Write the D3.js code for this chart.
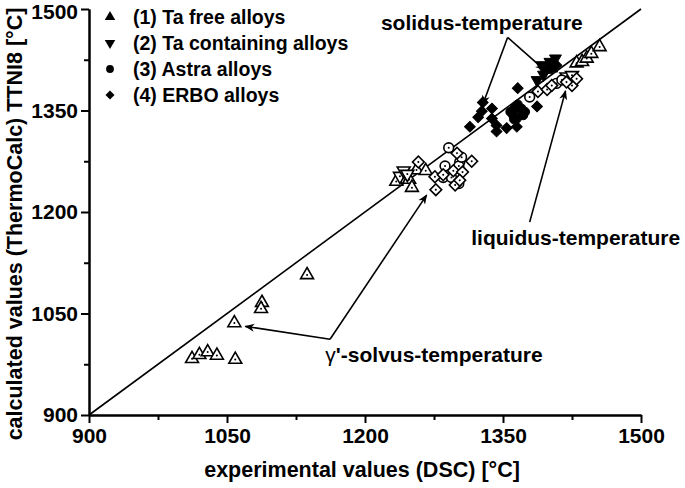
<!DOCTYPE html>
<html>
<head>
<meta charset="utf-8">
<script src="https://cdn.jsdelivr.net/npm/d3@7"></script>
<style>
  body { margin: 0; background: #fff; }
  svg { font-family: "Liberation Sans", Arial, sans-serif; font-weight: bold; }
  .axis path, .axis line { stroke: #000; stroke-width: 2; }
  .axis text { font-size: 21px; font-weight: bold; fill: #000; }
</style>
</head>
<body>
<div id="chart"></div>
<script>
// tick labels
var majorTicks = [900, 1050, 1200, 1350, 1500]
var minorTicks = [975, 1125, 1275, 1425]

// legend categories
var categories = ["(1) Ta free alloys", "(2) Ta containing alloys", "(3) Astra alloys", "(4) ERBO alloys"]

// [experimental (DSC), calculated (TTNI8)] per alloy group and temperature
var taFreeSolvus = [[1012, 983], [1020, 989], [1029, 993], [1039, 988], [1059, 982], [1058, 1036],
    [1088, 1066], [1087, 1057], [1137, 1107], [1234, 1245], [1248, 1248], [1251, 1236], [1256, 1262], [1266, 1261]]
var taContSolvus = [[1238, 1253], [1242, 1261], [1246, 1256]]
var astraSolvus = [[1291, 1295], [1287, 1268], [1303, 1274], [1302, 1268], [1285, 1251], [1294, 1251],
    [1302, 1242], [1305, 1281]]
var erboSolvus = [[1258, 1274], [1276, 1252], [1277, 1233], [1285, 1255], [1296, 1261], [1300, 1287],
    [1306, 1259], [1316, 1275], [1298, 1240], [1303, 1247]]

var taFreeSolidus = [[1398, 1410], [1403, 1412]]
var taContSolidus = [[1392, 1417], [1401, 1422], [1387, 1395], [1394, 1403], [1407, 1427]]
var astraSolidus = [[1358, 1348], [1363, 1355], [1369, 1351], [1372, 1343], [1365, 1338], [1361, 1343],
    [1370, 1353], [1366, 1359], [1362, 1337], [1374, 1348]]
var erboSolidus = [[1314, 1326], [1323, 1340], [1327, 1349], [1338, 1353], [1338, 1338], [1343, 1328],
    [1343, 1319], [1354, 1324], [1365, 1326], [1366, 1383], [1387, 1356], [1408, 1417], [1328, 1362]]

var taFreeLiquidus = [[1430, 1420], [1436, 1422], [1441, 1427], [1446, 1434], [1455, 1444]]
var taContLiquidus = [[1419, 1400], [1425, 1402]]
var astraLiquidus = [[1379, 1370], [1408, 1390], [1414, 1395]]
var erboLiquidus = [[1388, 1378], [1398, 1381], [1403, 1387], [1425, 1387], [1430, 1397], [1419, 1392]]

var groups = [
    { points: taFreeSolvus, symbol: 0, filled: false },
    { points: taContSolvus, symbol: 1, filled: false },
    { points: astraSolvus, symbol: 2, filled: false },
    { points: erboSolvus, symbol: 3, filled: false },
    { points: taFreeLiquidus, symbol: 0, filled: false },
    { points: taContLiquidus, symbol: 1, filled: false },
    { points: astraLiquidus, symbol: 2, filled: false },
    { points: erboLiquidus, symbol: 3, filled: false },
    { points: erboSolidus, symbol: 3, filled: true },
    { points: astraSolidus, symbol: 2, filled: true },
    { points: taFreeSolidus, symbol: 0, filled: true },
    { points: taContSolidus, symbol: 1, filled: true }
]

var width = 685, height = 488
var x = d3.scaleLinear().domain([900, 1500]).range([89, 641])
var y = d3.scaleLinear().domain([900, 1500]).range([415, 9])

var svg = d3.select("#chart").append("svg")
    .attr("width", width)
    .attr("height", height)

// symbol paths: up triangle, down triangle, circle, diamond (square turned 45deg)
var symbolTypes = [d3.symbolTriangle, d3.symbolTriangle, d3.symbolCircle, d3.symbolSquare]
var symbolRotate = [0, 180, 0, 45]
var symbolSize = [72, 72, 75, 68]

// axes
svg.append("g")
    .attr("class", "axis")
    .attr("transform", "translate(0," + y(900) + ")")
    .call(d3.axisBottom(x).tickValues(majorTicks).tickSize(8).tickSizeOuter(0).tickPadding(5).tickFormat(d3.format("d")))
svg.append("g")
    .attr("class", "axis")
    .attr("transform", "translate(0," + y(900) + ")")
    .call(d3.axisBottom(x).tickValues(minorTicks).tickSize(5).tickSizeOuter(0).tickFormat(""))

var yAxis = svg.append("g")
    .attr("class", "axis")
    .attr("transform", "translate(" + x(900) + ",0)")
    .call(d3.axisLeft(y).tickValues(majorTicks).tickSize(8).tickSizeOuter(0).tickPadding(3).tickFormat(d3.format("d")))
// keep the top label inside the picture
yAxis.selectAll(".tick text")
    .filter(function (d) { return d == 1500 })
    .attr("dy", "0.45em")
svg.append("g")
    .attr("class", "axis")
    .attr("transform", "translate(" + x(900) + ",0)")
    .call(d3.axisLeft(y).tickValues(minorTicks).tickSize(5).tickSizeOuter(0).tickFormat(""))

// axis titles
svg.append("text")
    .attr("x", 362)
    .attr("y", 477)
    .style("text-anchor", "middle")
    .style("font-size", "21.5px")
    .text("experimental values (DSC) [°C]")

svg.append("text")
    .attr("transform", "translate(22,224) rotate(-90)")
    .style("text-anchor", "middle")
    .style("font-size", "21.5px")
    .text("calculated values (ThermoCalc) TTNI8 [°C]")

// y = x line
svg.append("line")
    .attr("x1", x(900)).attr("y1", y(900))
    .attr("x2", x(1500)).attr("y2", y(1500))
    .attr("stroke", "#000")
    .attr("stroke-width", 1.6)

// points
groups.forEach(function (g) {
    var sym = d3.symbol().type(symbolTypes[g.symbol]).size(g.filled ? symbolSize[g.symbol] * 0.85 : symbolSize[g.symbol])
    var sel = svg.append("g").selectAll("g")
        .data(g.points)
        .enter().append("g")
        .attr("transform", function (d) {
            return "translate(" + x(d[0]) + "," + y(d[1]) + ") rotate(" + symbolRotate[g.symbol] + ")"
        })
    sel.append("path")
        .attr("d", sym())
        .attr("fill", g.filled ? "#000" : "#fff")
        .attr("stroke", "#000")
        .attr("stroke-width", g.filled ? 1 : 1.6)
    if (!g.filled) {
        sel.append("circle")
            .attr("r", 1)
            .attr("fill", "#000")
    }
})

// arrows
var defs = svg.append("defs")
defs.append("marker")
    .attr("id", "arrow")
    .attr("viewBox", "0 0 10 10")
    .attr("refX", 9).attr("refY", 5)
    .attr("markerWidth", 10).attr("markerHeight", 10)
    .attr("markerUnits", "userSpaceOnUse")
    .attr("orient", "auto")
    .append("path")
    .attr("d", "M0,1 L10,5 L0,9 L3,5 Z")
    .attr("fill", "#000")

var arrows = [
    [[1355, 1458], [1328, 1359]],
    [[1355, 1458], [1395, 1410]],
    [[1379, 1185], [1418, 1379]],
    [[1162, 1012], [1070, 1031]],
    [[1162, 1012], [1267, 1225]]
]
arrows.forEach(function (a) {
    svg.append("line")
        .attr("x1", x(a[0][0])).attr("y1", y(a[0][1]))
        .attr("x2", x(a[1][0])).attr("y2", y(a[1][1]))
        .attr("stroke", "#000")
        .attr("stroke-width", 1.6)
        .attr("marker-end", "url(#arrow)")
})

// annotations
svg.append("text")
    .attr("x", x(1327)).attr("y", y(1469))
    .style("text-anchor", "middle").style("font-size", "21px")
    .text("solidus-temperature")
svg.append("text")
    .attr("x", x(1429)).attr("y", y(1151))
    .style("text-anchor", "middle").style("font-size", "21px")
    .text("liquidus-temperature")
var gt = svg.append("text")
    .attr("x", x(1275)).attr("y", y(978))
    .style("text-anchor", "middle").style("font-size", "21px")
gt.append("tspan").style("font-weight", "normal").text("γ")
gt.append("tspan").text("'-solvus-temperature")

// legend
var legend = svg.append("g")
categories.forEach(function (c, i) {
    var ly = 17 + i * 26
    var sym = d3.symbol().type(symbolTypes[i]).size(i == 3 ? 40 : 48)
    legend.append("path")
        .attr("d", sym())
        .attr("transform", "translate(110," + ly + ") rotate(" + symbolRotate[i] + ")")
        .attr("fill", "#000")
    legend.append("text")
        .attr("x", 133).attr("y", ly + 7)
        .style("font-size", "19.5px")
        .text(c)
})
</script>
</body>
</html>
